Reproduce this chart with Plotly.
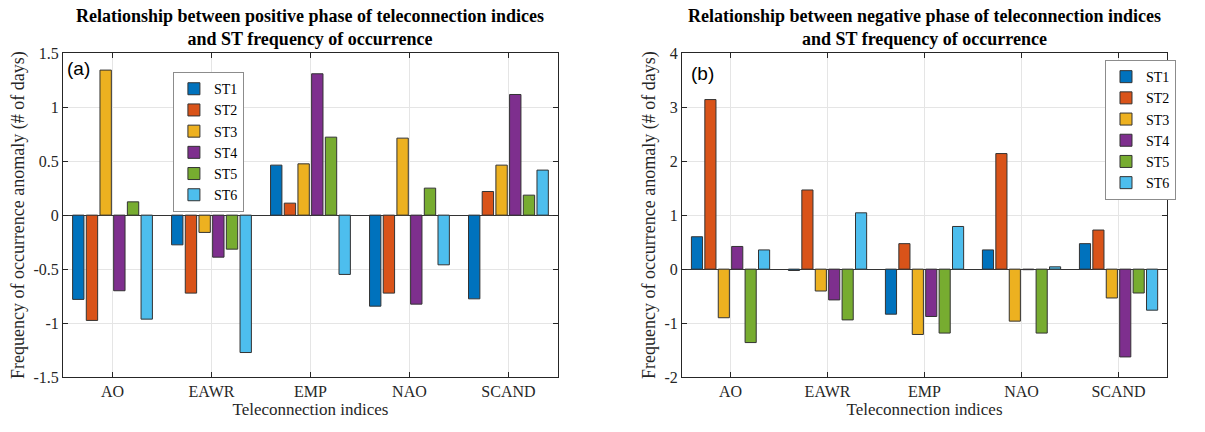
import plotly.graph_objects as go

categories = ["AO", "EAWR", "EMP", "NAO", "SCAND"]
series_names = ["ST1", "ST2", "ST3", "ST4", "ST5", "ST6"]

# Positive phase (panel a): values per series over categories
pos_ST1 = [-0.78, -0.275, 0.463, -0.843, -0.775]
pos_ST2 = [-0.975, -0.722, 0.111, -0.722, 0.219]
pos_ST3 = [1.343, -0.16, 0.475, 0.713, 0.463]
pos_ST4 = [-0.70, -0.389, 1.309, -0.824, 1.117]
pos_ST5 = [0.123, -0.315, 0.722, 0.25, 0.185]
pos_ST6 = [-0.963, -1.272, -0.549, -0.46, 0.417]

# Negative phase (panel b)
neg_ST1 = [0.60, -0.025, -0.834, 0.356, 0.472]
neg_ST2 = [3.14, 1.466, 0.472, 2.14, 0.724]
neg_ST3 = [-0.90, -0.405, -1.21, -0.963, -0.534]
neg_ST4 = [0.42, -0.57, -0.877, -0.01, -1.626]
neg_ST5 = [-1.36, -0.94, -1.184, -1.184, -0.442]
neg_ST6 = [0.356, 1.043, 0.79, 0.043, -0.76]

pos_series = [pos_ST1, pos_ST2, pos_ST3, pos_ST4, pos_ST5, pos_ST6]
neg_series = [neg_ST1, neg_ST2, neg_ST3, neg_ST4, neg_ST5, neg_ST6]

colors = ["#0072BD", "#D95319", "#EDB120", "#7E2F8E", "#77AC30", "#4DBEEE"]

serif = "Liberation Serif"
sans = "Liberation Sans"

fig = go.Figure()
for name, vals, c in zip(series_names, pos_series, colors):
    fig.add_trace(go.Bar(x=categories, y=vals, name=name, marker_color=c,
                         marker_line=dict(color="#333333", width=1),
                         xaxis="x", yaxis="y", legend="legend"))
for name, vals, c in zip(series_names, neg_series, colors):
    fig.add_trace(go.Bar(x=categories, y=vals, name=name, marker_color=c,
                         marker_line=dict(color="#333333", width=1),
                         xaxis="x2", yaxis="y2", legend="legend2"))

axis_common = dict(showline=True, linecolor="#262626", linewidth=1, mirror="ticks",
                   ticks="inside", ticklen=5, tickcolor="#262626",
                   showgrid=True, gridcolor="#e5e5e5", gridwidth=1,
                   automargin=False,
                   tickfont=dict(family=serif, size=16, color="#262626"))

yt_left = [-1.5, -1, -0.5, 0, 0.5, 1, 1.5]
yt_right = [-2, -1, 0, 1, 2, 3, 4]

ytitle = "Frequency of occurrence anomaly (# of days)"
xtitle = "Teleconnection indices"

fig.update_layout(
    width=1205, height=432,
    margin=dict(l=0, r=0, t=0, b=0, autoexpand=False),
    paper_bgcolor="white", plot_bgcolor="white",
    barmode="group", bargap=0.17, bargroupgap=0.17,
    font=dict(family=serif, size=16, color="#262626"),
    xaxis=dict(domain=[0.0523, 0.463], anchor="y", type="category",
               range=[-0.5, 4.5],
               title=dict(text=xtitle, font=dict(family=serif, size=17), standoff=2),
               **axis_common),
    yaxis=dict(domain=[0.127, 0.877], anchor="x", range=[-1.5, 1.5],
               tickvals=yt_left, ticktext=[("%g" % v) for v in yt_left],
               zeroline=True, zerolinecolor="#333333", zerolinewidth=1,
               title=dict(text=ytitle, font=dict(family=serif, size=18), standoff=4),
               **axis_common),
    xaxis2=dict(domain=[0.566, 0.9685], anchor="y2", type="category",
                range=[-0.5, 4.5],
                title=dict(text=xtitle, font=dict(family=serif, size=17), standoff=2),
                **axis_common),
    yaxis2=dict(domain=[0.127, 0.877], anchor="x2", range=[-2, 4],
                tickvals=yt_right, ticktext=[("%g" % v) for v in yt_right],
                zeroline=True, zerolinecolor="#333333", zerolinewidth=1,
                title=dict(text=ytitle, font=dict(family=serif, size=18), standoff=4),
                **axis_common),
    legend=dict(x=0.1435, y=0.833, xanchor="left", yanchor="top",
                bgcolor="white", bordercolor="#8c8c8c", borderwidth=1,
                font=dict(family=serif, size=14, color="#000000"), tracegroupgap=0,
                itemwidth=30),
    legend2=dict(x=0.917, y=0.861, xanchor="left", yanchor="top",
                 bgcolor="white", bordercolor="#8c8c8c", borderwidth=1,
                 font=dict(family=serif, size=14, color="#000000"), tracegroupgap=0,
                 itemwidth=30),
)

fig.add_annotation(text="<b>Relationship between positive phase of teleconnection indices<br>and ST frequency of occurrence</b>",
                   xref="paper", yref="paper", x=(0.0523 + 0.463) / 2, y=0.9363,
                   xanchor="center", yanchor="middle", align="center",
                   showarrow=False, font=dict(family=serif, size=18, color="#000000"))
fig.add_annotation(text="<b>Relationship between negative phase of teleconnection indices<br>and ST frequency of occurrence</b>",
                   xref="paper", yref="paper", x=(0.566 + 0.9685) / 2, y=0.9363,
                   xanchor="center", yanchor="middle", align="center",
                   showarrow=False, font=dict(family=serif, size=18, color="#000000"))
fig.add_annotation(text="(a)", xref="x domain", yref="y domain", x=0.005, y=0.99,
                   xanchor="left", yanchor="top", showarrow=False,
                   font=dict(family=sans, size=19, color="#000000"))
fig.add_annotation(text="(b)", xref="x2 domain", yref="y2 domain", x=0.015, y=0.975,
                   xanchor="left", yanchor="top", showarrow=False,
                   font=dict(family=sans, size=19, color="#000000"))

fig.write_html("out.html", config={"displayModeBar": False},
               post_script="document.body.style.margin='0px';")
